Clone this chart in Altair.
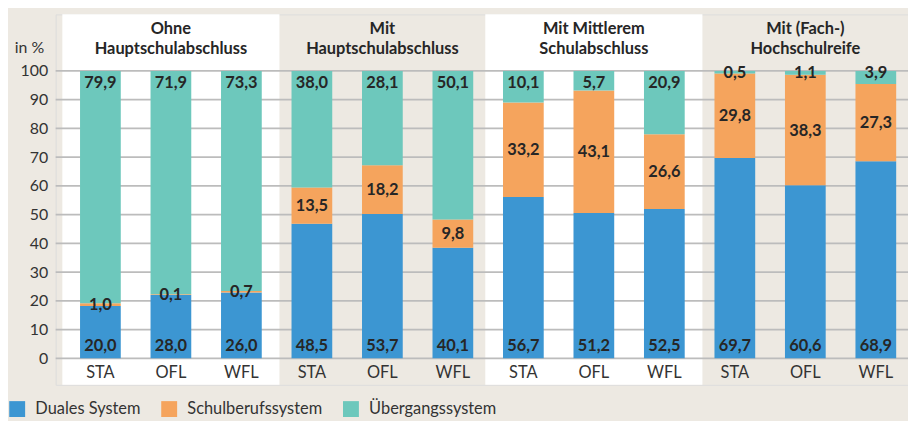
import altair as alt
import pandas as pd

groups = ["Ohne\nHauptschulabschluss", "Mit\nHauptschulabschluss",
          "Mit Mittlerem\nSchulabschluss", "Mit (Fach-)\nHochschulreife"]
regions = ["STA", "OFL", "WFL"]
series = ["Duales System", "Schulberufssystem", "Übergangssystem"]
colors = ["#3c96d2", "#f5a45d", "#6dc8bc"]

# printed percentages (bar labels), 12 bars: 4 groups x STA/OFL/WFL
duales_lbl = [20.0, 28.0, 26.0, 48.5, 53.7, 40.1, 56.7, 51.2, 52.5, 69.7, 60.6, 68.9]
schul_lbl = [1.0, 0.1, 0.7, 13.5, 18.2, 9.8, 33.2, 43.1, 26.6, 29.8, 38.3, 27.3]
ueber_lbl = [79.9, 71.9, 73.3, 38.0, 28.1, 50.1, 10.1, 5.7, 20.9, 0.5, 1.1, 3.9]

# segment heights as drawn in the picture
duales_bar = [18.2, 22.0, 22.9, 46.8, 50.2, 38.5, 56.1, 50.6, 52.0, 69.7, 60.2, 68.6]
schul_bar = [1.0, 0.3, 0.5, 12.65, 17.0, 9.8, 32.9, 42.6, 26.0, 29.4, 38.5, 26.9]
ueber_bar = [80.8, 77.7, 76.6, 40.55, 32.8, 51.7, 11.0, 6.8, 22.0, 0.9, 1.3, 4.5]

y_ticks = list(range(0, 101, 10))

# ---- layout constants (pixels / scale extents) ----
W, H = 858, 373
XDOM = [-0.064, 11.886]
YDOM = [-9.23, 119.70]
FONT = "Lato"
TXT = "#262626"

def fmt(v):
    return f"{v:.1f}".replace(".", ",")

rows, labels = [], []
for i in range(12):
    bars = [duales_bar[i], schul_bar[i], ueber_bar[i]]
    lbls = [duales_lbl[i], schul_lbl[i], ueber_lbl[i]]
    for s in range(3):
        rows.append({"pos": i + 0.5, "series": series[s], "order": s, "val": bars[s]})
    base = duales_bar[i]
    ly = [2.63,
          base + schul_bar[i] / 2 - 1.97,
          94.12 if ueber_lbl[i] >= 5 else 97.7]
    for s in range(3):
        labels.append({"pos": i + 0.5, "ly": ly[s], "txt": fmt(lbls[s])})

bars_df = pd.DataFrame(rows)
lab_df = pd.DataFrame(labels)
cat_df = pd.DataFrame({"pos": [i + 0.5 for i in range(12)],
                       "name": [regions[i % 3] for i in range(12)],
                       "cy": [-6.81] * 12})
grp_df = pd.DataFrame({"g": list(range(4)), "title": groups})
grp_df["x0"] = grp_df["g"] * 3 - 0.04
grp_df["x1"] = grp_df["g"] * 3 + 3.04
grp_df["xc"] = grp_df["g"] * 3 + 1.5
grp_df["ty"] = 112.96
panel_df = grp_df[grp_df["g"] % 2 == 0]
grid_df = pd.DataFrame({"t": y_ticks})

xs = alt.Scale(domain=XDOM, nice=False, zero=False)
ys = alt.Scale(domain=YDOM, nice=False, zero=False)

yaxis = alt.Axis(
    values=y_ticks, title="in %", titleAngle=0, titleX=-12, titleY=38,
    titleAlign="right", titleBaseline="alphabetic", titleFontWeight="normal",
    titleFontSize=16, titleColor="#333", titleFont=FONT,
    labelFontSize=16, labelColor="#333", labelFont=FONT,
    ticks=False, domain=False, grid=False, labelPadding=8)

panels = alt.Chart(panel_df).mark_rect(color="white").encode(
    x=alt.X("x0:Q", scale=xs, axis=None),
    x2="x1:Q",
    y=alt.value(0),
    y2=alt.value(H),
)

grid = alt.Chart(grid_df).mark_rule(color="#bcbcbc", strokeWidth=1.8).encode(
    y=alt.Y("t:Q", scale=ys, axis=yaxis),
    x=alt.value(0),
    x2=alt.value(W),
)

bars = alt.Chart(bars_df).mark_bar(size=41).encode(
    x=alt.X("pos:Q", scale=xs, axis=None),
    y=alt.Y("val:Q", stack="zero", scale=ys, axis=yaxis),
    color=alt.Color("series:N", scale=alt.Scale(domain=series, range=colors),
                    legend=alt.Legend(orient="none", legendX=-47, legendY=389,
                                      direction="horizontal", columns=3, title=None,
                                      symbolType="square", symbolSize=256,
                                      symbolStrokeWidth=0, symbolOpacity=1,
                                      labelFontSize=16.5, labelFont=FONT,
                                      labelColor="#333", labelOffset=10,
                                      columnPadding=20, padding=0)),
    order=alt.Order("order:Q"),
)

vals = alt.Chart(lab_df).mark_text(fontWeight="bold", fontSize=16.5, font=FONT,
                                   color=TXT, baseline="alphabetic").encode(
    x=alt.X("pos:Q", scale=xs, axis=None),
    y=alt.Y("ly:Q", scale=ys, axis=yaxis),
    text="txt:N",
)

cats = alt.Chart(cat_df).mark_text(fontSize=16.5, font=FONT, color="#333",
                                   baseline="alphabetic").encode(
    x=alt.X("pos:Q", scale=xs, axis=None),
    y=alt.Y("cy:Q", scale=ys, axis=yaxis),
    text="name:N",
)

titles = alt.Chart(grp_df).mark_text(fontWeight="bold", fontSize=16.5, font=FONT,
                                     color=TXT, baseline="alphabetic",
                                     lineBreak="\n", lineHeight=20).encode(
    x=alt.X("xc:Q", scale=xs, axis=None),
    y=alt.Y("ty:Q", scale=ys, axis=yaxis),
    text="title:N",
)

chart = alt.layer(panels, grid, bars, vals, cats, titles).properties(
    width=W, height=H,
    autosize=alt.AutoSizeParams(type="none"),
    padding={"left": 48, "top": 5, "right": 0, "bottom": 35},
    background="#ede9e2",
).configure_view(stroke=None).configure(font=FONT)

chart.save("out.html", embed_options={"renderer": "svg", "actions": False})
